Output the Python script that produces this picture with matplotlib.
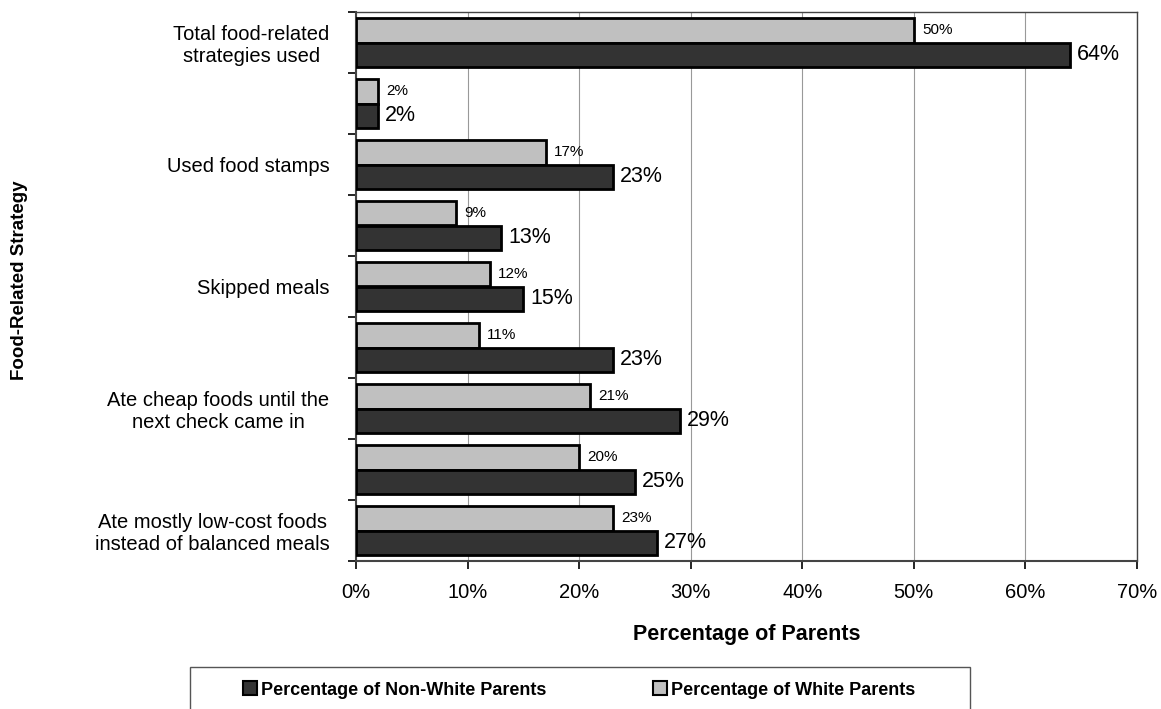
import matplotlib
matplotlib.use("Agg")
import matplotlib.pyplot as plt
from matplotlib.patches import Patch, Rectangle
import numpy as np

plt.rcParams["font.family"] = ["Liberation Sans", "DejaVu Sans"]

# Strategies, top to bottom (every other one carries a label)
categories = [
    "Total food-related\nstrategies used",
    "",
    "Used food stamps",
    "",
    "Skipped meals",
    "",
    "Ate cheap foods until the\nnext check came in",
    "",
    "Ate mostly low-cost foods\ninstead of balanced meals",
]
white_pct = [50, 2, 17, 9, 12, 11, 21, 20, 23]
nonwhite_pct = [64, 2, 23, 13, 15, 23, 29, 25, 27]
x_ticks = [0, 10, 20, 30, 40, 50, 60, 70]

DARK = "#333333"
LIGHT = "#c0c0c0"
W, H = 1161, 709

fig = plt.figure(figsize=(W / 100, H / 100), dpi=100)
ax = fig.add_axes([356 / W, 1 - 561 / H, (1137 - 356) / W, (561 - 12) / H])

pos = np.arange(len(categories))
bar_h = 0.4
ax.barh(pos - bar_h / 2, white_pct, height=bar_h, color=LIGHT,
        edgecolor="black", linewidth=2, zorder=3)
ax.barh(pos + bar_h / 2, nonwhite_pct, height=bar_h, color=DARK,
        edgecolor="black", linewidth=2, zorder=3)

for y, v in zip(pos, white_pct):
    ax.annotate(f"{v}%", (v, y - bar_h / 2), xytext=(6, 0),
                textcoords="offset points", va="center", ha="left", fontsize=11)
for y, v in zip(pos, nonwhite_pct):
    ax.annotate(f"{v}%", (v, y + bar_h / 2), xytext=(5, 0),
                textcoords="offset points", va="center", ha="left", fontsize=15.5)

ax.set_xlim(0, 70)
ax.set_ylim(len(categories) - 0.5, -0.5)

ax.set_xticks(x_ticks)
ax.set_xticklabels([f"{t}%" for t in x_ticks], fontsize=14.5)
ax.tick_params(axis="x", direction="out", length=6, width=1.2, pad=10)

# boundary ticks between groups, labels at group centres
ax.set_yticks(np.arange(-0.5, len(categories), 1.0))
ax.set_yticklabels([])
ax.set_yticks(pos, minor=True)
ax.set_yticklabels(categories, minor=True, fontsize=14.5)
ax.tick_params(axis="y", which="major", direction="out", length=6, width=1.2)
ax.tick_params(axis="y", which="minor", length=0, pad=19)
for lbl in ax.get_yticklabels(minor=True):
    lbl.set_multialignment("center")

ax.grid(axis="x", color="#999999", linewidth=0.8, zorder=0)
for side in ["top", "right"]:
    ax.spines[side].set_color("#444444")
    ax.spines[side].set_linewidth(1)
for side in ["left", "bottom"]:
    ax.spines[side].set_color("#444444")
    ax.spines[side].set_linewidth(1.5)

ax.set_xlabel("Percentage of Parents", fontsize=15.5, fontweight="bold", labelpad=16)
fig.text(20 / W, 1 - 280 / H, "Food-Related Strategy", rotation=90,
         ha="center", va="center", fontsize=13.5, fontweight="bold")

# legend box runs off the bottom edge
fig.patches.append(Rectangle((190 / W, 1 - 715 / H), (970 - 190) / W, (715 - 667) / H,
                             transform=fig.transFigure, facecolor="white",
                             edgecolor="#555555", linewidth=1))
handles = [
    Patch(facecolor=DARK, edgecolor="black", linewidth=1.5, label="Percentage of Non-White Parents"),
    Patch(facecolor=LIGHT, edgecolor="black", linewidth=1.5, label="Percentage of White Parents"),
]
fig.legend(handles=handles, ncol=2, loc="center left",
           bbox_to_anchor=(243 / W, 1 - 690 / H), frameon=False,
           prop={"weight": "bold", "size": 13}, handlelength=0.78, handleheight=0.78,
           handletextpad=0.22, borderpad=0, borderaxespad=0, columnspacing=5.9)

fig.savefig("out.png", dpi=100)
